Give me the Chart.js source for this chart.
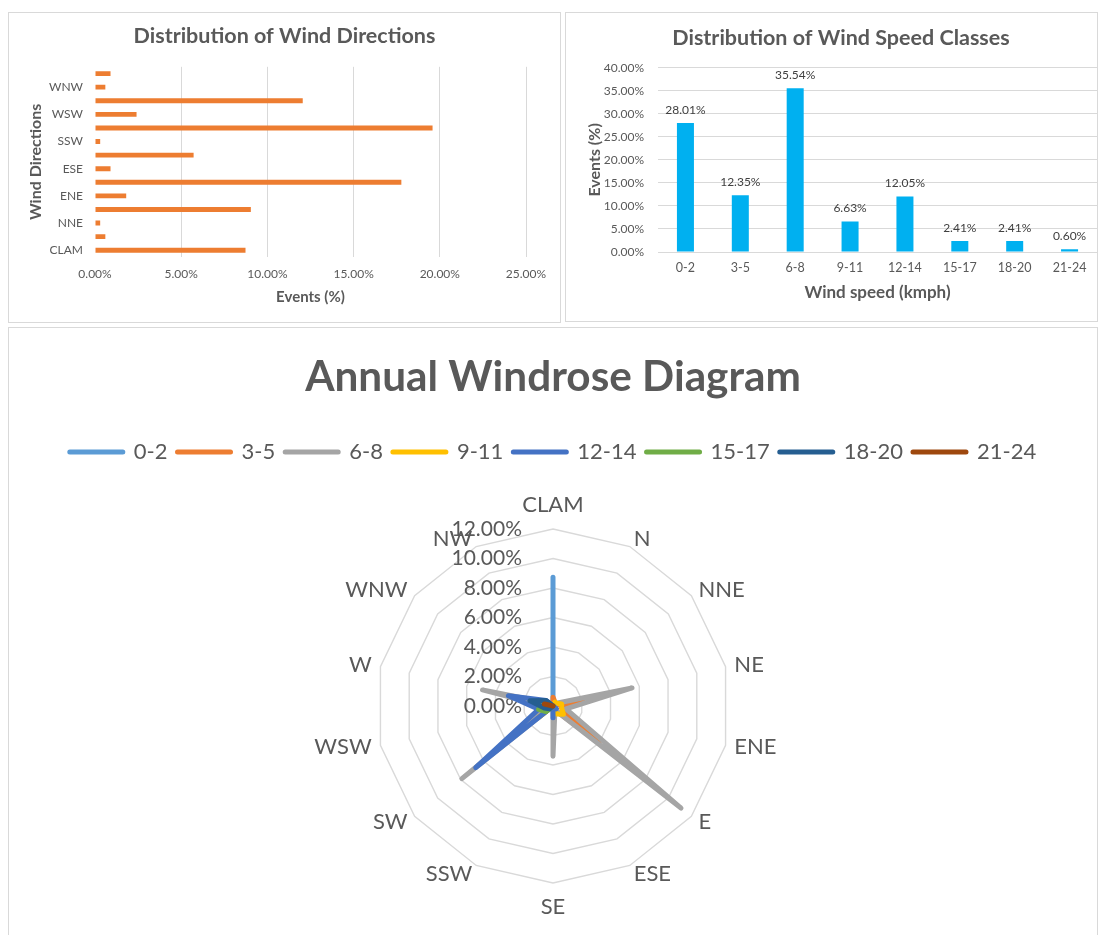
<!DOCTYPE html>
<html>
<head>
<meta charset="utf-8">
<title>Wind statistics</title>
<script src="https://cdn.jsdelivr.net/npm/chart.js@4.4.1/dist/chart.umd.min.js"></script>
<style>
  html, body { margin: 0; padding: 0; background: #fff; }
  body { width: 1098px; height: 935px; position: relative; overflow: hidden; }
  .panel { position: absolute; border: 1px solid #D9D9D9; box-sizing: border-box; background: #fff; }
  .panel canvas { position: absolute; left: 0; top: 0; }
</style>
</head>
<body>
<div class="panel" style="left:8px;top:12px;width:553px;height:311px">
  <canvas id="dirChart" width="551" height="309"></canvas>
</div>
<div class="panel" style="left:565px;top:12px;width:533px;height:310px">
  <canvas id="speedChart" width="531" height="308"></canvas>
</div>
<div class="panel" style="left:8px;top:327px;width:1090px;height:620px">
  <canvas id="roseChart" width="1088" height="607"></canvas>
</div>

<script>
// data (percent of events)
const directions = ['CLAM', 'N', 'NNE', 'NE', 'ENE', 'E', 'ESE', 'SE', 'SSW', 'SW', 'WSW', 'W', 'WNW', 'NW'];
const directionShare = [8.73, 0.60, 0.30, 9.04, 1.81, 17.77, 0.90, 5.72, 0.30, 19.58, 2.41, 12.05, 0.60, 0.90];
const directionTicks = [0, 5, 10, 15, 20, 25];

const speedClasses = ['0-2', '3-5', '6-8', '9-11', '12-14', '15-17', '18-20', '21-24'];
const speedShare = [28.01, 12.35, 35.54, 6.63, 12.05, 2.41, 2.41, 0.60];
const speedTicks = [0, 5, 10, 15, 20, 25, 30, 35, 40];

// windrose: one list per speed class, in the order of `directions`
const rose_0_2   = [8.73, 0, 0, 0, 0, 0, 0, 0, 0, 0, 0, 0, 0, 0];
const rose_3_5   = [0.6, 0.3, 0, 2.1, 0.6, 4.0, 0.3, 0, 0, 0, 0, 0, 0, 0];
const rose_6_8   = [0, 0, 0.3, 5.5, 0.9, 11.1, 0.3, 3.4, 0, 7.9, 0.3, 4.9, 0.3, 0];
const rose_9_11  = [0, 0.3, 0.3, 0.6, 0.6, 0.9, 0.6, 0, 0, 1.2, 0, 0, 0, 0];
const rose_12_14 = [0, 0, 0, 0, 0, 0.3, 0, 0.8, 0, 6.7, 1.0, 3.1, 0.6, 0];
const rose_15_17 = [0, 0, 0, 0, 0, 0, 0, 0, 0, 0.6, 1.0, 0.6, 0, 0];
const rose_18_20 = [0, 0, 0, 0, 0, 0, 0, 0, 0, 0.3, 0.6, 1.6, 0.6, 0];
const rose_21_24 = [0, 0, 0, 0, 0, 0, 0, 0, 0, 0, 0, 0.6, 0, 0];
const roseTicks = [0, 2, 4, 6, 8, 10, 12];
const roseColors = ['#5B9BD5', '#ED7D31', '#A5A5A5', '#FFC000', '#4472C4', '#70AD47', '#255E91', '#9E480E'];

(function () {
  'use strict';

  const FONT = 'Lato, "Liberation Sans", sans-serif';
  Chart.defaults.font.family = FONT;
  Chart.defaults.color = '#595959';
  Chart.defaults.animation = false;

  const pct = v => Number(v).toFixed(2) + '%';
  const grey = '#D9D9D9';

  // force ticks to the values listed above
  const fixedTicks = list => scale => { scale.ticks = list.map(v => ({ value: v })); };

  // ---- Distribution of Wind Directions (horizontal bars)
  new Chart(document.getElementById('dirChart'), {
    type: 'bar',
    data: {
      labels: directions,
      datasets: [{
        data: directionShare,
        backgroundColor: '#ED7D31',
        barPercentage: 0.36,
        categoryPercentage: 1
      }]
    },
    options: {
      indexAxis: 'y',
      responsive: false,
      plugins: {
        legend: { display: false },
        tooltip: { enabled: false },
        title: {
          display: true,
          text: 'Distribution of Wind Directions',
          font: { size: 21.5, weight: 'bold' },
          color: '#595959',
          padding: { top: 10, bottom: 18 }
        }
      },
      scales: {
        x: {
          min: 0, max: 25,
          afterBuildTicks: fixedTicks(directionTicks),
          afterFit: s => { s.height = 65; },
          grid: { color: c => (c.tick && c.tick.value === 0) ? 'rgba(0,0,0,0)' : grey, drawTicks: false },
          border: { display: false },
          ticks: { callback: pct, font: { size: 12 }, padding: 10 },
          title: { display: true, text: 'Events (%)', font: { size: 15, weight: 'bold' }, padding: { top: 0, bottom: 16 } }
        },
        y: {
          reverse: true,
          afterFit: s => { s.width = 86; },
          grid: { display: false, drawTicks: false },
          border: { display: false },
          ticks: {
            autoSkip: false,
            font: { size: 12 },
            padding: 12,
            callback: function (v, i) { return i % 2 === 0 ? this.getLabelForValue(v) : ''; }
          },
          title: { display: true, text: 'Wind Directions', font: { size: 16, weight: 'bold' }, padding: { top: 17, bottom: 0 } }
        },
        // empty right-hand strip so the plot stops short of the frame
        yGap: {
          type: 'linear',
          axis: 'y',
          position: 'right',
          afterFit: s => { s.width = 34; },
          grid: { display: false, drawTicks: false },
          border: { display: false },
          ticks: { display: false }
        }
      }
    }
  });

  // labels above the speed bars
  const barValueLabels = {
    id: 'barValueLabels',
    afterDatasetsDraw(chart) {
      const ctx = chart.ctx;
      const meta = chart.getDatasetMeta(0);
      ctx.save();
      ctx.font = '12px ' + FONT;
      ctx.fillStyle = '#404040';
      ctx.textAlign = 'center';
      ctx.textBaseline = 'middle';
      meta.data.forEach((bar, i) => {
        ctx.fillText(pct(chart.data.datasets[0].data[i]), bar.x, bar.y - 13);
      });
      ctx.restore();
    }
  };

  // ---- Distribution of Wind Speed Classes (vertical bars)
  new Chart(document.getElementById('speedChart'), {
    type: 'bar',
    data: {
      labels: speedClasses,
      datasets: [{
        data: speedShare,
        backgroundColor: '#00B0F0',
        barPercentage: 0.31,
        categoryPercentage: 1
      }]
    },
    options: {
      responsive: false,
      layout: { padding: { left: 19, right: 0, top: 0, bottom: 0 } },
      plugins: {
        legend: { display: false },
        tooltip: { enabled: false },
        title: {
          display: true,
          text: 'Distribution of Wind Speed Classes',
          font: { size: 21.5, weight: 'bold' },
          color: '#595959',
          padding: { top: 12, bottom: 17 }
        }
      },
      scales: {
        x: {
          afterFit: s => { s.height = 69; },
          grid: { display: false, drawTicks: false },
          border: { display: false },
          ticks: { font: { size: 12.5 }, padding: 8 },
          title: { display: true, text: 'Wind speed (kmph)', font: { size: 17, weight: 'bold' }, padding: { top: 0, bottom: 18 } }
        },
        y: {
          min: 0, max: 40,
          afterBuildTicks: fixedTicks(speedTicks),
          afterFit: s => { s.width = 73; },
          grid: { color: grey, drawTicks: false },
          border: { display: false },
          ticks: { callback: pct, font: { size: 12 }, padding: 14 },
          title: { display: true, text: 'Events (%)', font: { size: 16, weight: 'bold' }, padding: { top: 0, bottom: 0 } }
        }
      }
    },
    plugins: [barValueLabels]
  });

  // radar texts placed like the original: value labels right aligned left of
  // the centre line; each direction name has its near edge on a ring just
  // outside the grid
  const roseTexts = {
    id: 'roseTexts',
    beforeDatasetsDraw(chart) {
      const s = chart.scales.r;
      const ctx = chart.ctx;
      const n = chart.data.labels.length;
      ctx.save();
      ctx.fillStyle = '#595959';
      ctx.textBaseline = 'middle';

      ctx.font = '21px ' + FONT;
      ctx.textAlign = 'right';
      roseTicks.forEach(v => {
        ctx.fillText(pct(v), s.xCenter - 31, s.yCenter - s.getDistanceFromCenterForValue(v));
      });

      ctx.font = '22px ' + FONT;
      chart.data.labels.forEach((name, i) => {
        const p = s.getPointPosition(i, s.drawingArea + 9);
        const deg = Math.round(i * 360 / n);
        let y = p.y;
        if (deg === 0) { ctx.textAlign = 'center'; y -= 15; }
        else if (deg === 180) { ctx.textAlign = 'center'; y += 15; }
        else ctx.textAlign = deg < 180 ? 'left' : 'right';
        ctx.fillText(name, p.x, y);
      });
      ctx.restore();
    }
  };

  const roseSeries = [rose_0_2, rose_3_5, rose_6_8, rose_9_11, rose_12_14, rose_15_17, rose_18_20, rose_21_24];

  // ---- Annual Windrose Diagram (radar)
  new Chart(document.getElementById('roseChart'), {
    type: 'radar',
    data: {
      labels: directions,
      datasets: roseSeries.map((vals, i) => ({
        label: speedClasses[i],
        data: vals,
        borderColor: roseColors[i],
        backgroundColor: roseColors[i],
        borderWidth: 5,
        borderJoinStyle: 'round',
        borderCapStyle: 'round',
        pointRadius: 0,
        fill: false,
        order: roseSeries.length - 1 - i   // later speed classes drawn on top
      }))
    },
    options: {
      responsive: false,
      layout: { padding: { left: 0, right: 0, top: 0, bottom: 51 } },
      plugins: {
        tooltip: { enabled: false },
        title: {
          display: true,
          text: 'Annual Windrose Diagram',
          font: { size: 42.3, weight: 'bold' },
          color: '#595959',
          padding: { top: 23.6, bottom: 28.6 }
        },
        legend: {
          display: true,
          position: 'top',
          labels: {
            usePointStyle: true,
            pointStyle: 'line',
            pointStyleWidth: 53,
            padding: 10,
            color: '#595959',
            font: { size: 22 },
            generateLabels: chart => Chart.defaults.plugins.legend.labels.generateLabels(chart)
              .sort((a, b) => a.datasetIndex - b.datasetIndex)
              .map(it => Object.assign(it, { lineCap: 'round', lineWidth: 5 }))
          }
        },
        // empty spacer between legend and plot (room for the CLAM label)
        subtitle: {
          display: true,
          text: '',
          weight: 500,
          font: { size: 10, lineHeight: 1 },
          padding: { top: 0, bottom: 47 }
        }
      },
      scales: {
        r: {
          min: 0, max: 12,
          afterBuildTicks: fixedTicks(roseTicks),
          ticks: { display: false },
          grid: { color: grey, lineWidth: 1.4, circular: false },
          angleLines: { display: false },
          pointLabels: { display: false }
        }
      }
    },
    plugins: [roseTexts]
  });
})();
</script>
</body>
</html>
